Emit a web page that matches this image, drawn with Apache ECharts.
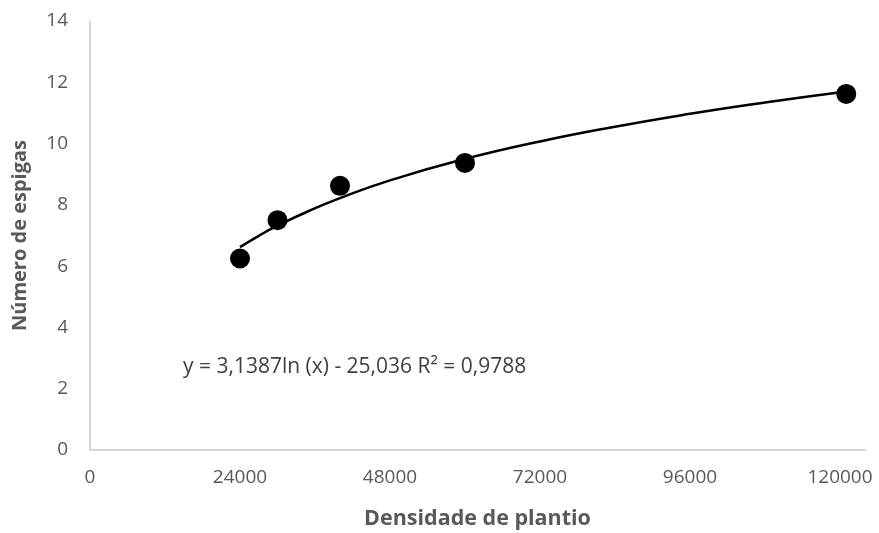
<!DOCTYPE html>
<html>
<head>
<meta charset="utf-8">
<script src="https://cdn.jsdelivr.net/npm/echarts@6/dist/echarts.min.js"></script>
<style>html,body{margin:0;padding:0;background:#fff}#c{width:879px;height:533px}</style>
</head>
<body>
<div id="c"></div>
<script>
var densidade = [24000, 30000, 40000, 60000, 121000];
var espigas = [6.25, 7.5, 8.62, 9.37, 11.62];
var trendX = [24000, 27000, 30000, 35000, 40000, 48000, 60000, 72000, 84000, 96000, 108000, 121000];
var trendY = [6.62, 6.99, 7.32, 7.80, 8.22, 8.80, 9.50, 10.07, 10.55, 10.97, 11.34, 11.70];
var xTicks = [0, 24000, 48000, 72000, 96000, 120000];
var equationText = 'y = 3,1387ln (x) - 25,036 R² = 0,9788';

var chart = echarts.init(document.getElementById('c'));
var font = '"Open Sans", sans-serif';
chart.setOption({
  animation: false,
  grid: {left: 90, right: 14, top: 21, bottom: 83, containLabel: false, outerBoundsMode: 'none'},
  xAxis: {
    type: 'value', min: 0, max: 124000, interval: 24000,
    name: 'Densidade de plantio', nameLocation: 'middle', nameGap: 58,
    nameTextStyle: {fontFamily: font, fontSize: 21.5, fontWeight: 'bold', color: '#595959'},
    axisLine: {lineStyle: {color: '#c8c8c8', width: 1.5}},
    axisTick: {show: false},
    splitLine: {show: false},
    axisLabel: {
      fontFamily: font, fontSize: 19, color: '#595959', margin: 18,
      formatter: function (v) { return xTicks.indexOf(v) >= 0 ? String(v) : ''; }
    }
  },
  yAxis: {
    type: 'value', min: 0, max: 14, interval: 2,
    name: 'Número de espigas', nameLocation: 'middle', nameGap: 60,
    nameTextStyle: {fontFamily: font, fontSize: 20, fontWeight: 'bold', color: '#595959'},
    axisLine: {show: true, lineStyle: {color: '#c8c8c8', width: 1.5}},
    axisTick: {show: false},
    splitLine: {show: false},
    axisLabel: {fontFamily: font, fontSize: 19, color: '#595959', margin: 22}
  },
  graphic: [{
    type: 'text', left: 183, top: 357,
    style: {text: equationText, font: '21px "Open Sans", sans-serif', fill: '#404040'}
  }],
  series: [{
    type: 'line', smooth: true, showSymbol: false,
    data: trendX.map(function (x, i) { return [x, trendY[i]]; }),
    lineStyle: {color: '#000', width: 2.5}, z: 2
  }, {
    type: 'scatter', symbolSize: 20,
    data: densidade.map(function (x, i) { return [x, espigas[i]]; }),
    itemStyle: {color: '#000', opacity: 1}, z: 3
  }]
});
</script>
</body>
</html>
